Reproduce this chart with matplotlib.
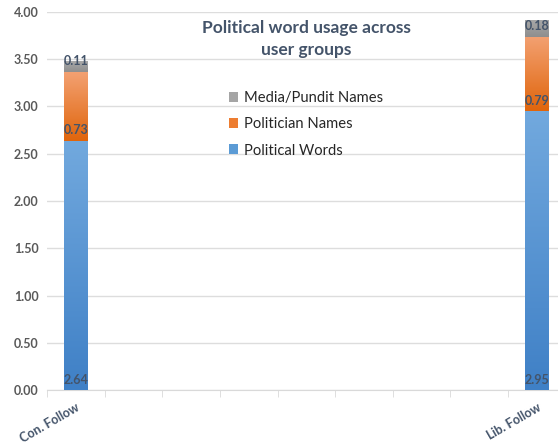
import numpy as np
import matplotlib
matplotlib.use("Agg")
import matplotlib.pyplot as plt
from matplotlib.colors import LinearSegmentedColormap

# ---------- data ----------
categories = ["Con. Follow", "", "", "", "", "", "", "", "Lib. Follow"]
political_words = [2.64, 0, 0, 0, 0, 0, 0, 0, 2.95]
politician_names = [0.73, 0, 0, 0, 0, 0, 0, 0, 0.79]
media_names = [0.11, 0, 0, 0, 0, 0, 0, 0, 0.18]

plt.rcParams["font.family"] = ["Lato", "DejaVu Sans"]

LABEL = "#44546A"
fig = plt.figure(figsize=(5.58, 4.44), dpi=100)
ax = fig.add_axes([0.084, 0.1216, 0.93, 0.8514])

x = np.arange(len(categories))
bw = 0.4

series = [
    ("Political Words", political_words, "#5B9BD5", ("#3F80C6", "#72A9DE")),
    ("Politician Names", politician_names, "#ED7D31", ("#E0650C", "#F3A172")),
    ("Media/Pundit Names", media_names, "#A5A5A5", ("#8E8E8E", "#A9A9A9")),
]

bottom = np.zeros(len(categories))
containers = []
for name, vals, base, (c_lo, c_hi) in series:
    vals = np.array(vals)
    bars = ax.bar(x, vals, bw, bottom=bottom, color=base, label=name, zorder=2)
    cmap = LinearSegmentedColormap.from_list(name, [c_lo, c_hi])
    grad = np.linspace(0, 1, 256).reshape(-1, 1)
    for b, v, b0 in zip(bars, vals, bottom):
        if v <= 0:
            continue
        x0, y0 = b.get_x(), b.get_y()
        im = ax.imshow(grad, cmap=cmap, origin="lower", aspect="auto",
                       extent=[x0, x0 + b.get_width(), y0, y0 + b.get_height()],
                       zorder=3)
        im.set_clip_path(b)
        ax.annotate(f"{v:.2f}", (b.get_x() + b.get_width() / 2, y0),
                    xytext=(0, 3), textcoords="offset points",
                    ha="center", va="bottom", fontsize=9, fontweight="bold",
                    color=LABEL, zorder=4)
    containers.append(bars)
    bottom = bottom + vals

ax.set_xlim(-0.5, 8.5)
ax.set_ylim(0, 4.0)
ax.set_yticks(np.arange(0, 4.01, 0.5))
ax.set_yticklabels([f"{v:.2f}" for v in np.arange(0, 4.01, 0.5)])
ax.tick_params(axis="y", length=0, labelsize=9, labelcolor="#595959", pad=6)
for lab in ax.get_yticklabels():
    lab.set_fontweight("bold")

ax.set_xticks([0, 8])
ax.set_xticklabels([categories[0], categories[8]], rotation=30, ha="right",
                   rotation_mode="anchor", fontsize=9, fontweight="bold", color=LABEL)
ax.set_xticks(np.arange(-0.5, 8.6, 1), minor=True)
ax.tick_params(axis="x", which="major", length=0, pad=8)
ax.tick_params(axis="x", which="minor", length=5, color="#D9D9D9")

ax.grid(axis="y", color="#DDDDDD", lw=1)
ax.set_axisbelow(True)
for s in ["top", "right", "left"]:
    ax.spines[s].set_visible(False)
ax.spines["bottom"].set_color("#D9D9D9")

ax.set_title("Political word usage across\nuser groups", fontsize=12.5,
             fontweight="bold", color=LABEL, pad=-31, y=1.0, linespacing=1.45)

handles = containers[::-1]
ax.legend(handles, [h.get_label() for h in handles], loc="upper left",
          bbox_to_anchor=(0.325, 0.825), frameon=False, fontsize=10.6,
          handlelength=0.65, handleheight=0.65, handletextpad=0.4,
          labelspacing=0.82, labelcolor="#262626")

fig.savefig("out.png", dpi=100, facecolor="white")
